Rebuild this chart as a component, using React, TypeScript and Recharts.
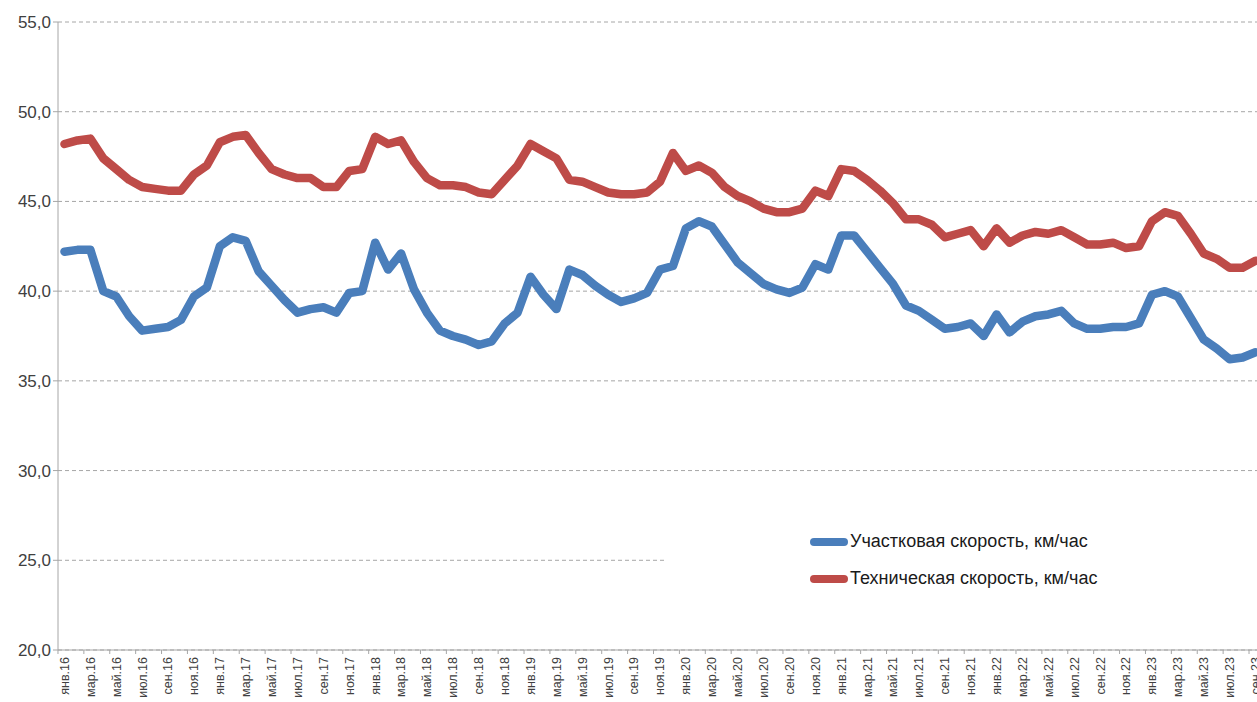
import { CartesianGrid, Legend, Line, LineChart, XAxis, YAxis } from 'recharts';

const monthNames = ['янв', 'фев', 'мар', 'апр', 'май', 'июн', 'июл', 'авг', 'сен', 'окт', 'ноя', 'дек'];
const years = ['16', '17', '18', '19', '20', '21', '22', '23'];
const monthsInLastYear = 9;

// Участковая скорость, км/час
const sectionSpeed = [
    42.2, 42.3, 42.3, 40.0, 39.7, 38.6, 37.8, 37.9, 38.0, 38.4, 39.7, 40.2,
    42.5, 43.0, 42.8, 41.1, 40.3, 39.5, 38.8, 39.0, 39.1, 38.8, 39.9, 40.0,
    42.7, 41.2, 42.1, 40.1, 38.8, 37.8, 37.5, 37.3, 37.0, 37.2, 38.2, 38.8,
    40.8, 39.8, 39.0, 41.2, 40.9, 40.3, 39.8, 39.4, 39.6, 39.9, 41.2, 41.4,
    43.5, 43.9, 43.6, 42.6, 41.6, 41.0, 40.4, 40.1, 39.9, 40.2, 41.5, 41.2,
    43.1, 43.1, 42.2, 41.3, 40.4, 39.2, 38.9, 38.4, 37.9, 38.0, 38.2, 37.5,
    38.7, 37.7, 38.3, 38.6, 38.7, 38.9, 38.2, 37.9, 37.9, 38.0, 38.0, 38.2,
    39.8, 40.0, 39.7, 38.5, 37.3, 36.8, 36.2, 36.3, 36.6,
];

// Техническая скорость, км/час
const technicalSpeed = [
    48.2, 48.4, 48.5, 47.4, 46.8, 46.2, 45.8, 45.7, 45.6, 45.6, 46.5, 47.0,
    48.3, 48.6, 48.7, 47.7, 46.8, 46.5, 46.3, 46.3, 45.8, 45.8, 46.7, 46.8,
    48.6, 48.2, 48.4, 47.2, 46.3, 45.9, 45.9, 45.8, 45.5, 45.4, 46.2, 47.0,
    48.2, 47.8, 47.4, 46.2, 46.1, 45.8, 45.5, 45.4, 45.4, 45.5, 46.1, 47.7,
    46.7, 47.0, 46.6, 45.8, 45.3, 45.0, 44.6, 44.4, 44.4, 44.6, 45.6, 45.3,
    46.8, 46.7, 46.2, 45.6, 44.9, 44.0, 44.0, 43.7, 43.0, 43.2, 43.4, 42.5,
    43.5, 42.7, 43.1, 43.3, 43.2, 43.4, 43.0, 42.6, 42.6, 42.7, 42.4, 42.5,
    43.9, 44.4, 44.2, 43.2, 42.1, 41.8, 41.3, 41.3, 41.7,
];

const yTicks = [20, 25, 30, 35, 40, 45, 50, 55];

const categories = years.flatMap((y, yi) =>
    monthNames
        .slice(0, yi === years.length - 1 ? monthsInLastYear : 12)
        .map((m) => `${m}.${y}`),
);

const data = categories.map((m, i) => ({
    m,
    sect: sectionSpeed[i],
    tech: technicalSpeed[i],
}));

const series = [
    { key: 'sect', name: 'Участковая скорость, км/час', color: '#4a7ebb' },
    { key: 'tech', name: 'Техническая скорость, км/час', color: '#be4b48' },
];

const FONT = '"Liberation Sans", Arial, sans-serif';
const AXIS_GRAY = '#a6a6a6';
const HALF_BAND = 6.5;

function MonthTick({ x, y, payload }: any) {
    return (
        <g>
            <line x1={x - HALF_BAND} x2={x - HALF_BAND} y1={y - 7} y2={y - 3} stroke={AXIS_GRAY} />
            <text
                x={x}
                y={y}
                transform={`rotate(-90 ${x} ${y})`}
                textAnchor="end"
                dy="0.35em"
                fontSize={12.5}
                fontFamily={FONT}
                fill="#404040"
            >
                {payload.value}
            </text>
        </g>
    );
}

function SpeedLegend() {
    return (
        <div style={{ position: 'relative', width: '100%', height: '100%', background: '#fff' }}>
            {series.map((s, i) => (
                <div
                    key={s.key}
                    style={{
                        position: 'absolute',
                        left: 145,
                        top: 31 + i * 37,
                        display: 'flex',
                        alignItems: 'center',
                        fontFamily: FONT,
                        fontSize: 18,
                        color: '#1a1a1a',
                        whiteSpace: 'nowrap',
                    }}
                >
                    <span
                        style={{
                            display: 'inline-block',
                            width: 38,
                            height: 8,
                            borderRadius: 4,
                            background: s.color,
                            marginRight: 2,
                        }}
                    />
                    {s.name}
                </div>
            ))}
        </div>
    );
}

export default function App() {
    return (
        <div
            style={{
                position: 'absolute',
                left: 0,
                top: 0,
                width: 1257,
                height: 702,
                overflow: 'hidden',
                background: '#fff',
            }}
        >
            <LineChart width={1262} height={702} data={data} margin={{ top: 22, right: 0, left: 0, bottom: 0 }}>
                <CartesianGrid vertical={false} stroke={AXIS_GRAY} strokeDasharray="4 3" />
                <XAxis
                    dataKey="m"
                    scale="band"
                    interval={1}
                    tickLine={false}
                    tickSize={4}
                    tickMargin={3}
                    height={52}
                    stroke={AXIS_GRAY}
                    tick={<MonthTick />}
                />
                <YAxis
                    width={58}
                    domain={[20, 55]}
                    ticks={yTicks}
                    tickSize={5}
                    tickMargin={2}
                    stroke={AXIS_GRAY}
                    tick={{ fontSize: 17, fontFamily: FONT, fill: '#404040' }}
                    tickFormatter={(v: number) => v.toFixed(1).replace('.', ',')}
                />
                <Legend
                    layout="vertical"
                    align="center"
                    verticalAlign="middle"
                    wrapperStyle={{ left: 665, top: 500, width: 600, height: 140 }}
                    content={() => <SpeedLegend />}
                />
                {series.map((s) => (
                    <Line
                        key={s.key}
                        type="linear"
                        dataKey={s.key}
                        name={s.name}
                        stroke={s.color}
                        strokeWidth={8.5}
                        strokeLinejoin="round"
                        strokeLinecap="round"
                        dot={false}
                        activeDot={false}
                        isAnimationActive={false}
                    />
                ))}
            </LineChart>
        </div>
    );
}
